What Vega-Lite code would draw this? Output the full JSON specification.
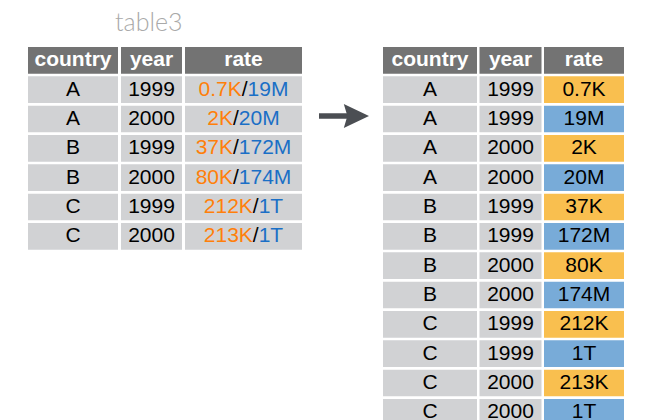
{
  "$schema": "https://vega.github.io/schema/vega-lite/v6.json",
  "padding": {"left": 28, "top": 10, "right": 0, "bottom": 0},
  "background": "white",
  "title": {"text": "table3", "anchor": "start", "dx": 87, "offset": 11.5, "font": "Lato", "fontSize": 25, "fontWeight": 300, "color": "#a9a9a9"},
  "datasets": {
    "table3": [
      {"row": 0, "kind": "header", "country": "country", "year": "year", "rate": "rate", "cases": "", "population": ""},
      {"row": 1, "kind": "body", "country": "A", "year": "1999", "rate": "0.7K/19M", "cases": "0.7K", "population": "19M"},
      {"row": 2, "kind": "body", "country": "A", "year": "2000", "rate": "2K/20M", "cases": "2K", "population": "20M"},
      {"row": 3, "kind": "body", "country": "B", "year": "1999", "rate": "37K/172M", "cases": "37K", "population": "172M"},
      {"row": 4, "kind": "body", "country": "B", "year": "2000", "rate": "80K/174M", "cases": "80K", "population": "174M"},
      {"row": 5, "kind": "body", "country": "C", "year": "1999", "rate": "212K/1T", "cases": "212K", "population": "1T"},
      {"row": 6, "kind": "body", "country": "C", "year": "2000", "rate": "213K/1T", "cases": "213K", "population": "1T"}
    ],
    "tidy": [
      {"row": 0, "kind": "header", "country": "country", "year": "year", "rate": "rate"},
      {"row": 1, "kind": "cases", "country": "A", "year": "1999", "rate": "0.7K"},
      {"row": 2, "kind": "population", "country": "A", "year": "1999", "rate": "19M"},
      {"row": 3, "kind": "cases", "country": "A", "year": "2000", "rate": "2K"},
      {"row": 4, "kind": "population", "country": "A", "year": "2000", "rate": "20M"},
      {"row": 5, "kind": "cases", "country": "B", "year": "1999", "rate": "37K"},
      {"row": 6, "kind": "population", "country": "B", "year": "1999", "rate": "172M"},
      {"row": 7, "kind": "cases", "country": "B", "year": "2000", "rate": "80K"},
      {"row": 8, "kind": "population", "country": "B", "year": "2000", "rate": "174M"},
      {"row": 9, "kind": "cases", "country": "C", "year": "1999", "rate": "212K"},
      {"row": 10, "kind": "population", "country": "C", "year": "1999", "rate": "1T"},
      {"row": 11, "kind": "cases", "country": "C", "year": "2000", "rate": "213K"},
      {"row": 12, "kind": "population", "country": "C", "year": "2000", "rate": "1T"}
    ]
  },
  "spacing": 14,
  "hconcat": [
    {
      "spacing": 3,
      "hconcat": [
        {
          "width": 90, "height": {"step": 29.33},
          "data": {"name": "table3"},
          "encoding": {"y": {"field": "row", "type": "ordinal", "axis": null, "scale": {"paddingInner": 0.09, "paddingOuter": 0}}},
          "layer": [
            {"mark": {"type": "rect"}, "encoding": {"x": {"value": 0}, "x2": {"value": "width"}, "color": {"condition": {"test": "datum.kind === 'header'", "value": "#737373"}, "value": "#d1d2d4"}}},
            {"transform": [{"filter": "datum.kind === 'header'"}], "mark": {"type": "text", "font": "Liberation Sans", "fontSize": 21, "fontWeight": "bold", "color": "white"}, "encoding": {"text": {"field": "country"}}},
            {"transform": [{"filter": "datum.kind !== 'header'"}], "mark": {"type": "text", "font": "Liberation Sans", "fontSize": 21, "color": "black"}, "encoding": {"text": {"field": "country"}}}
          ]
        },
        {
          "width": 61, "height": {"step": 29.33},
          "data": {"name": "table3"},
          "encoding": {"y": {"field": "row", "type": "ordinal", "axis": null, "scale": {"paddingInner": 0.09, "paddingOuter": 0}}},
          "layer": [
            {"mark": {"type": "rect"}, "encoding": {"x": {"value": 0}, "x2": {"value": "width"}, "color": {"condition": {"test": "datum.kind === 'header'", "value": "#737373"}, "value": "#d1d2d4"}}},
            {"transform": [{"filter": "datum.kind === 'header'"}], "mark": {"type": "text", "font": "Liberation Sans", "fontSize": 21, "fontWeight": "bold", "color": "white"}, "encoding": {"text": {"field": "year"}}},
            {"transform": [{"filter": "datum.kind !== 'header'"}], "mark": {"type": "text", "font": "Liberation Sans", "fontSize": 21, "color": "black"}, "encoding": {"text": {"field": "year"}}}
          ]
        },
        {
          "width": 117, "height": {"step": 29.33},
          "data": {"name": "table3"},
          "transform": [
            {"calculate": "21*(0.556*length(replace(datum.cases, regexp('[^0-9]','g'), '')) + 0.278*length(replace(datum.cases, regexp('[^.]','g'), '')) + 0.667*length(replace(datum.cases, regexp('[^K]','g'), '')) + 0.833*length(replace(datum.cases, regexp('[^M]','g'), '')) + 0.611*length(replace(datum.cases, regexp('[^T]','g'), '')))", "as": "wo"},
            {"calculate": "21*(0.556*length(replace(datum.population, regexp('[^0-9]','g'), '')) + 0.278*length(replace(datum.population, regexp('[^.]','g'), '')) + 0.667*length(replace(datum.population, regexp('[^K]','g'), '')) + 0.833*length(replace(datum.population, regexp('[^M]','g'), '')) + 0.611*length(replace(datum.population, regexp('[^T]','g'), '')))", "as": "wb"},
            {"calculate": "(datum.wo - datum.wb) / 2", "as": "sx"}
          ],
          "encoding": {"y": {"field": "row", "type": "ordinal", "axis": null, "scale": {"paddingInner": 0.09, "paddingOuter": 0}}},
          "layer": [
            {"mark": {"type": "rect"}, "encoding": {"x": {"value": 0}, "x2": {"value": "width"}, "color": {"condition": {"test": "datum.kind === 'header'", "value": "#737373"}, "value": "#d1d2d4"}}},
            {"transform": [{"filter": "datum.kind === 'header'"}], "mark": {"type": "text", "font": "Liberation Sans", "fontSize": 21, "fontWeight": "bold", "color": "white"}, "encoding": {"text": {"field": "rate"}}},
            {"transform": [{"filter": "datum.kind !== 'header'"}], "mark": {"type": "text", "font": "Liberation Sans", "fontSize": 21, "color": "#ff7f0a", "align": "right", "dx": -2.9}, "encoding": {"x": {"field": "sx", "type": "quantitative", "axis": null, "scale": {"domain": [-58.5, 58.5], "nice": false, "zero": false}}, "text": {"field": "cases"}}},
            {"transform": [{"filter": "datum.kind !== 'header'"}], "mark": {"type": "text", "font": "Liberation Sans", "fontSize": 21, "color": "black", "align": "center"}, "encoding": {"x": {"field": "sx", "type": "quantitative", "axis": null}, "text": {"value": "/"}}},
            {"transform": [{"filter": "datum.kind !== 'header'"}], "mark": {"type": "text", "font": "Liberation Sans", "fontSize": 21, "color": "#1a6fc6", "align": "left", "dx": 2.9}, "encoding": {"x": {"field": "sx", "type": "quantitative", "axis": null}, "text": {"field": "population"}}}
          ]
        }
      ]
    },
    {
      "width": 50, "height": {"step": 29.33},
      "data": {"values": [{"row": 2}]},
      "encoding": {"y": {"field": "row", "type": "ordinal", "axis": null, "scale": {"domain": [0, 1, 2, 3, 4, 5, 6], "paddingInner": 0.09, "paddingOuter": 0}}},
      "layer": [
        {"mark": {"type": "rule", "color": "#4b4e53", "strokeWidth": 5.5, "x2Offset": -20, "yOffset": -3}, "encoding": {"x": {"value": 0}, "x2": {"value": "width"}}},
        {"mark": {"type": "point", "shape": "M-2.1,-1L0,0L-2.1,1L-1.8,0Z", "filled": true, "color": "#4b4e53", "opacity": 1, "size": 576, "yOffset": -3}, "encoding": {"x": {"value": "width"}}}
      ]
    },
    {
      "spacing": 2.5,
      "hconcat": [
        {
          "width": 94, "height": {"step": 29.33},
          "data": {"name": "tidy"},
          "encoding": {"y": {"field": "row", "type": "ordinal", "axis": null, "scale": {"paddingInner": 0.09, "paddingOuter": 0}}},
          "layer": [
            {"mark": {"type": "rect"}, "encoding": {"x": {"value": 0}, "x2": {"value": "width"}, "color": {"condition": {"test": "datum.kind === 'header'", "value": "#737373"}, "value": "#d1d2d4"}}},
            {"transform": [{"filter": "datum.kind === 'header'"}], "mark": {"type": "text", "font": "Liberation Sans", "fontSize": 21, "fontWeight": "bold", "color": "white"}, "encoding": {"text": {"field": "country"}}},
            {"transform": [{"filter": "datum.kind !== 'header'"}], "mark": {"type": "text", "font": "Liberation Sans", "fontSize": 21, "color": "black"}, "encoding": {"text": {"field": "country"}}}
          ]
        },
        {
          "width": 62, "height": {"step": 29.33},
          "data": {"name": "tidy"},
          "encoding": {"y": {"field": "row", "type": "ordinal", "axis": null, "scale": {"paddingInner": 0.09, "paddingOuter": 0}}},
          "layer": [
            {"mark": {"type": "rect"}, "encoding": {"x": {"value": 0}, "x2": {"value": "width"}, "color": {"condition": {"test": "datum.kind === 'header'", "value": "#737373"}, "value": "#d1d2d4"}}},
            {"transform": [{"filter": "datum.kind === 'header'"}], "mark": {"type": "text", "font": "Liberation Sans", "fontSize": 21, "fontWeight": "bold", "color": "white"}, "encoding": {"text": {"field": "year"}}},
            {"transform": [{"filter": "datum.kind !== 'header'"}], "mark": {"type": "text", "font": "Liberation Sans", "fontSize": 21, "color": "black"}, "encoding": {"text": {"field": "year"}}}
          ]
        },
        {
          "width": 80, "height": {"step": 29.33},
          "data": {"name": "tidy"},
          "encoding": {"y": {"field": "row", "type": "ordinal", "axis": null, "scale": {"paddingInner": 0.09, "paddingOuter": 0}}},
          "layer": [
            {"mark": {"type": "rect"}, "encoding": {"x": {"value": 0}, "x2": {"value": "width"}, "color": {"field": "kind", "type": "nominal", "legend": null, "scale": {"domain": ["header", "cases", "population"], "range": ["#737373", "#f9bf4f", "#78abd8"]}}}},
            {"transform": [{"filter": "datum.kind === 'header'"}], "mark": {"type": "text", "font": "Liberation Sans", "fontSize": 21, "fontWeight": "bold", "color": "white"}, "encoding": {"text": {"field": "rate"}}},
            {"transform": [{"filter": "datum.kind !== 'header'"}], "mark": {"type": "text", "font": "Liberation Sans", "fontSize": 21, "color": "black"}, "encoding": {"text": {"field": "rate"}}}
          ]
        }
      ]
    }
  ],
  "config": {"view": {"stroke": null}}
}
